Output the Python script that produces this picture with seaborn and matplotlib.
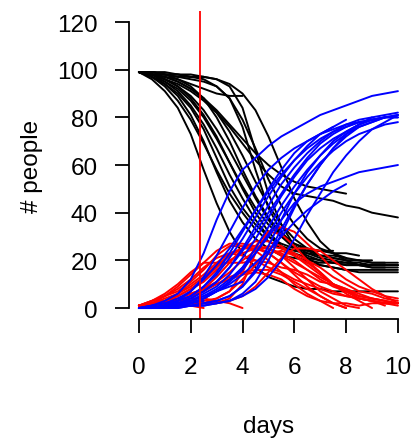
import matplotlib
matplotlib.use("Agg")
import matplotlib.pyplot as plt
import seaborn as sns
import pandas as pd

# ---- data ----
days = [0, 0.5, 1, 1.5, 2, 2.5, 3, 3.5, 4, 4.5, 5, 5.5, 6, 6.5, 7, 7.5, 8, 8.5, 9, 9.5, 10]

susceptible = [
    [99, 96, 91, 84, 73, 58, 44, 32, 23, 17, 13, 11, 9, 8, 8, 7, 7, 7, 7, 7, 7],
    [99, 97, 94, 89, 81, 70, 57, 45, 36, 29, 25, 22, 21, 20, 19, 19, 18, 18, 18, 18, 18],
    [99, 98, 96, 93, 88, 81, 72, 61, 50, 40, 32, 26, 22, 19, 18, 17, 16, 16, 16, 16, 16],
    [99, 98, 97, 95, 92, 88, 82, 74, 64, 53, 43, 35, 29, 25, 22, 21, 20, 20, 19, 19, 19],
    [99, 99, 98, 98, 97, 97, 96, 93, 84, 66, 48, 35, 26, 21, 18, 17, 16, 15, 15, 15, 15],
    [99, 98, 96, 94, 91, 87, 82, 76, 69, 62, 56, 51, 48, 47, 46, 45, 43, 42, 40, 39, 38],
    [99, 98, 96, 93, 89, 83, 75, 66, 56, 46, 37, 30, 25, 22, 20, 19, 18, 18, 17, 17],
    [99, 97, 95, 91, 85, 77, 67, 56, 46, 37, 30, 26, 24, 23, 22, 22, 21],
    [99, 97, 94, 90, 84, 75, 63, 51, 42, 35, 30, 27, 25, 24, 24, 24],
    [99, 99, 98, 98, 97, 96, 93, 88, 79, 67, 54, 43, 35, 29, 25, 23, 21, 20, 20],
    [99, 98, 97, 96, 94, 92, 90, 89, 89],
    [99, 98, 98, 97, 97, 97],
    [99, 99, 99, 98, 98, 97, 96, 94, 90, 83, 72, 59, 46, 36, 28, 23, 20, 18, 17, 17, 17],
    [99, 98, 95, 92, 87, 80, 71, 61, 51, 42, 35, 30, 27, 25, 24, 23, 23, 22],
    [99, 97, 93, 87, 79, 69, 58, 48, 40, 33, 28, 25, 23, 21, 20, 19, 19, 18, 18, 18, 18],
    [99, 99, 98, 96, 93, 88, 80, 70, 58, 47, 38, 31, 27, 24, 22, 21, 20, 20, 19, 19],
    [99, 98, 97, 95, 92, 88, 83, 77, 71, 65, 60, 56, 53, 51, 50, 49, 48],
    [99, 99, 98, 97, 96, 95, 93, 88, 76, 58, 42, 32, 26, 23, 21, 20, 19, 19, 18, 18, 18],
]

infected = [
    [1, 3, 6, 10, 15, 19, 19, 19, 19, 20, 19, 17, 16, 14, 11, 10, 8, 6, 4, 3, 2],
    [1, 3, 5, 8, 12, 17, 21, 23, 22, 20, 17, 15, 12, 10, 8, 6, 5, 4, 3, 2, 2],
    [1, 2, 3, 5, 8, 12, 17, 22, 25, 26, 25, 22, 19, 16, 12, 9, 7, 5, 4, 3, 2],
    [1, 2, 3, 4, 6, 8, 11, 15, 20, 24, 26, 25, 23, 20, 17, 13, 10, 7, 6, 4, 3],
    [1, 1, 2, 2, 2, 2, 2, 4, 10, 23, 32, 34, 32, 27, 22, 16, 12, 9, 7, 5, 4],
    [1, 2, 3, 4, 6, 8, 10, 12, 14, 15, 14, 12, 8, 5, 3, 2, 2, 1, 2, 2, 2],
    [1, 2, 3, 5, 8, 11, 16, 20, 23, 25, 25, 23, 20, 16, 13, 10, 8, 5, 4, 3],
    [1, 2, 3, 6, 10, 14, 19, 23, 25, 25, 23, 19, 14, 9, 5, 2, 0],
    [1, 3, 5, 7, 11, 16, 22, 26, 26, 24, 20, 15, 10, 6, 3, 0],
    [1, 1, 2, 1, 2, 2, 4, 7, 12, 18, 23, 24, 22, 19, 15, 10, 6, 3, 0],
    [1, 2, 3, 3, 4, 4, 3, 2, 0],
    [1, 2, 1, 1, 1, 0],
    [1, 1, 1, 2, 1, 2, 2, 3, 5, 9, 15, 21, 25, 25, 24, 20, 16, 12, 8, 5, 2],
    [1, 2, 4, 6, 9, 13, 18, 22, 25, 26, 25, 22, 17, 12, 7, 4, 1, 0],
    [1, 2, 5, 9, 14, 19, 24, 27, 27, 26, 23, 19, 15, 12, 9, 7, 5, 4, 3, 2, 2],
    [1, 1, 2, 3, 5, 8, 13, 19, 25, 28, 28, 26, 22, 18, 14, 10, 7, 4, 3, 1],
    [1, 2, 2, 3, 5, 7, 10, 13, 15, 16, 16, 14, 11, 8, 5, 2, 0],
    [1, 1, 2, 2, 3, 3, 4, 7, 15, 26, 32, 31, 26, 20, 15, 10, 7, 4, 3, 2, 1],
]

recovered = [
    [0, 1, 3, 6, 12, 23, 37, 49, 58, 63, 68, 72, 75, 78, 81, 83, 85, 87, 89, 90, 91],
    [0, 0, 1, 3, 7, 13, 22, 32, 42, 51, 58, 63, 67, 70, 73, 75, 77, 78, 79, 80, 80],
    [0, 0, 1, 2, 4, 7, 11, 17, 25, 34, 43, 52, 59, 65, 70, 74, 77, 79, 80, 81, 82],
    [0, 0, 0, 1, 2, 4, 7, 11, 16, 23, 31, 40, 48, 55, 61, 66, 70, 73, 75, 77, 78],
    [0, 0, 0, 0, 1, 1, 2, 3, 6, 11, 20, 31, 42, 52, 60, 67, 72, 76, 78, 80, 81],
    [0, 0, 1, 2, 3, 5, 8, 12, 17, 23, 30, 37, 44, 48, 51, 53, 55, 57, 58, 59, 60],
    [0, 0, 1, 2, 3, 6, 9, 14, 21, 29, 38, 47, 55, 62, 67, 71, 74, 77, 79, 80],
    [0, 1, 2, 3, 5, 9, 14, 21, 29, 38, 47, 55, 62, 68, 73, 76, 79],
    [0, 0, 1, 3, 5, 9, 15, 23, 32, 41, 50, 58, 65, 70, 73, 76],
    [0, 0, 0, 1, 1, 2, 3, 5, 9, 15, 23, 33, 43, 52, 60, 67, 73, 77, 80],
    [0, 0, 0, 1, 2, 4, 7, 9, 11],
    [0, 0, 1, 2, 2, 3],
    [0, 0, 0, 0, 1, 1, 2, 3, 5, 8, 13, 20, 29, 39, 48, 57, 64, 70, 75, 78, 81],
    [0, 0, 1, 2, 4, 7, 11, 17, 24, 32, 40, 48, 56, 63, 69, 73, 76, 78],
    [0, 1, 2, 4, 7, 12, 18, 25, 33, 41, 49, 56, 62, 67, 71, 74, 76, 78, 79, 80, 80],
    [0, 0, 0, 1, 2, 4, 7, 11, 17, 25, 34, 43, 51, 58, 64, 69, 73, 76, 78, 80],
    [0, 0, 1, 2, 3, 5, 7, 10, 14, 19, 24, 30, 36, 41, 45, 49, 52],
    [0, 0, 0, 1, 1, 2, 3, 5, 9, 16, 26, 37, 48, 57, 64, 70, 74, 77, 79, 80, 81],
]

marker_day = 2.35
x_ticks = [0, 2, 4, 6, 8, 10]
y_ticks = [0, 20, 40, 60, 80, 100, 120]

# ---- long-form table ----
rows = []
for run in range(len(susceptible)):
    for comp, series in (("S", susceptible), ("I", infected), ("R", recovered)):
        for j, v in enumerate(series[run]):
            rows.append({"day": days[j], "people": v, "compartment": comp, "run": run})
df = pd.DataFrame(rows)

sns.set_style("ticks")
plt.rcParams["font.family"] = ["Liberation Sans", "DejaVu Sans"]
FS = 17.5

fig = plt.figure(figsize=(4.12, 4.39), dpi=100)
ax = fig.add_axes([0.312, 0.270, 0.679, 0.7036])

sns.lineplot(data=df, x="day", y="people", hue="compartment", units="run",
             estimator=None, sort=False, legend=False,
             hue_order=["S", "I", "R"],
             palette={"S": "black", "I": "red", "R": "blue"},
             linewidth=1.4, ax=ax)

ax.axvline(marker_day, color="red", linewidth=1.3)

ax.set_xlim(-0.4, 10.4)
ax.set_ylim(-4.8, 124.8)
ax.set_xticks(x_ticks)
ax.set_yticks(y_ticks)
ax.set_xticklabels([str(t) for t in x_ticks])
ax.set_yticklabels([str(t) for t in y_ticks])

for s in ("top", "right"):
    ax.spines[s].set_visible(False)
ax.spines["left"].set_bounds(0, 120)
ax.spines["bottom"].set_bounds(0, 10)
for s in ("left", "bottom"):
    ax.spines[s].set_linewidth(1.3)
    ax.spines[s].set_color("black")

ax.tick_params(axis="both", length=10, width=1.3, color="black",
               labelsize=FS, labelcolor="black")
ax.tick_params(axis="y", pad=12)
ax.tick_params(axis="x", pad=16)

ax.set_xlabel("days", fontsize=FS, color="black")
ax.set_ylabel("# people", fontsize=FS, color="black")
ax.xaxis.set_label_coords(0.5, -0.31)
ax.yaxis.set_label_coords(-0.305, 0.5)

fig.savefig("out.png", dpi=100)
